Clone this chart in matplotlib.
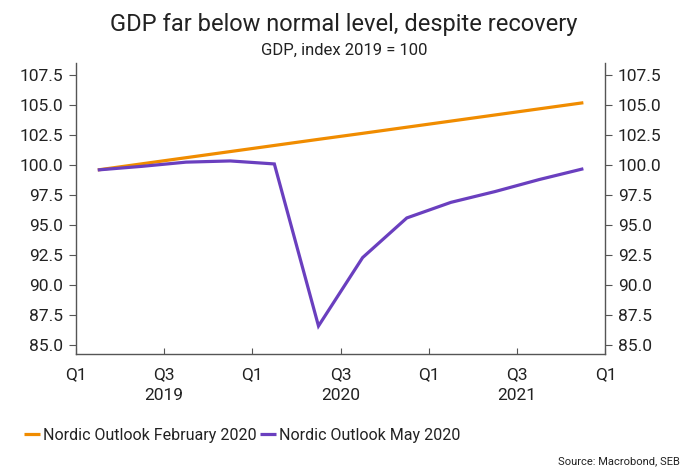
import matplotlib.pyplot as plt

plt.rcParams['font.family'] = ['Roboto', 'DejaVu Sans']

# quarterly GDP index, 2019 = 100, Q1 2019 .. Q4 2021
quarters = ['2019Q1', '2019Q2', '2019Q3', '2019Q4',
            '2020Q1', '2020Q2', '2020Q3', '2020Q4',
            '2021Q1', '2021Q2', '2021Q3', '2021Q4']
feb_2020 = [99.60, 100.11, 100.62, 101.13, 101.64, 102.15,
            102.65, 103.16, 103.67, 104.18, 104.69, 105.20]
may_2020 = [99.6, 99.9, 100.25, 100.35, 100.1, 86.6,
            92.3, 95.6, 96.9, 97.8, 98.8, 99.7]

tick_pos = [0, 2, 4, 6, 8, 10, 12]
tick_labels = ['Q1', 'Q3\n2019', 'Q1', 'Q3\n2020', 'Q1', 'Q3\n2021', 'Q1']
y_ticks = [85.0, 87.5, 90.0, 92.5, 95.0, 97.5, 100.0, 102.5, 105.0, 107.5]

orange = '#F08C00'
purple = '#6A3FBF'
spine_col = '#555555'
text_col = '#222222'

x = [i + 0.5 for i in range(len(quarters))]

fig = plt.figure(figsize=(6.88, 4.71), dpi=100)
ax = fig.add_axes([0.110, 0.248, 0.770, 0.618])

ax.plot(x, feb_2020, color=orange, lw=2.3, solid_capstyle='butt',
        label='Nordic Outlook February 2020')
ax.plot(x, may_2020, color=purple, lw=2.3, solid_capstyle='butt',
        solid_joinstyle='miter', label='Nordic Outlook May 2020')

ax.set_xlim(0, 12)
ax.set_ylim(84.25, 108.5)
ax.set_yticks(y_ticks)
ax.set_yticklabels([f'{v:.1f}' for v in y_ticks])
ax.set_xticks(tick_pos)
ax.set_xticklabels(tick_labels, linespacing=1.55)

ax.spines['top'].set_visible(False)
for s in ['left', 'right', 'bottom']:
    ax.spines[s].set_color(spine_col)
    ax.spines[s].set_linewidth(1.0)

ax.tick_params(axis='y', which='both', left=True, right=True,
               labelleft=True, labelright=True, direction='out',
               length=5, color=spine_col, labelsize=12.5,
               labelcolor=text_col, pad=4)
ax.tick_params(axis='x', direction='in', length=4, color=spine_col,
               labelsize=12.5, labelcolor=text_col, pad=9)

fig.text(0.5, 0.948, 'GDP far below normal level, despite recovery',
         ha='center', va='center', fontsize=17, color=text_col)
fig.text(0.5, 0.893, 'GDP, index 2019 = 100', ha='center', va='center',
         fontsize=12, color=text_col)

leg = fig.legend(loc='center left', bbox_to_anchor=(0.025, 0.076),
                 ncol=2, frameon=False, fontsize=11.5, handlelength=1.0,
                 handletextpad=0.2, columnspacing=0.2, borderaxespad=0)
for t in leg.get_texts():
    t.set_color(text_col)

fig.text(0.988, 0.01, 'Source: Macrobond, SEB', ha='right', va='bottom',
         fontsize=8, color=text_col)

fig.savefig('out.png', dpi=100)
